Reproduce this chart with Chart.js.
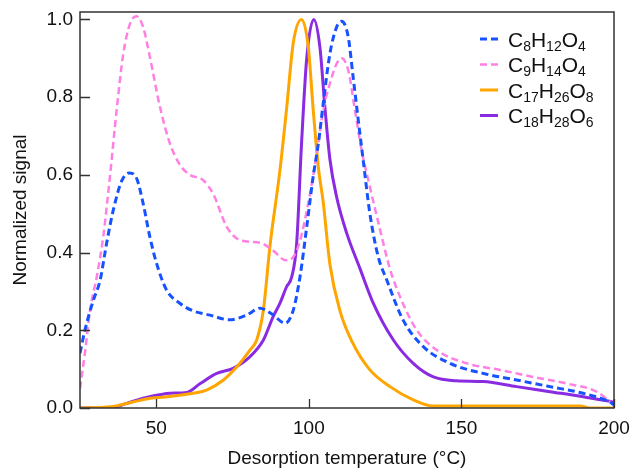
<!DOCTYPE html>
<html>
<head>
<meta charset="utf-8">
<script src="https://cdn.jsdelivr.net/npm/chart.js@4.4.1/dist/chart.umd.min.js"></script>
<style>
  html, body { margin: 0; padding: 0; background: #fff; }
  #wrap { width: 636px; height: 470px; position: relative; }
</style>
</head>
<body>
<div id="wrap"><canvas id="chart"></canvas></div>
<script>
/* =========================
   DATOS
========================= */
const xTicks = [50, 100, 150, 200];
const yTicks = [0, 0.2, 0.4, 0.6, 0.8, 1.0];

// C8H12O4
const c8Temp = [25, 26.6, 29.4, 31.6, 33.7, 35.9, 38.7, 41.2, 43.6, 45.7, 47.9, 50.1, 53.4, 57.8, 62, 67.6, 74, 79.6, 84, 88.2, 92.2, 94.9, 97.1, 99.3, 101.4, 103.1, 104.7, 106.9, 109.1, 110.7, 112.9, 114.5, 116.2, 117.8, 120, 122.7, 125.5, 130.9, 137.5, 146.2, 157.1, 168.1, 179, 189.8, 198.7, 200];
const c8Signal = [0.141, 0.2, 0.278, 0.329, 0.423, 0.509, 0.585, 0.605, 0.59, 0.526, 0.44, 0.372, 0.303, 0.269, 0.25, 0.239, 0.227, 0.239, 0.257, 0.24, 0.218, 0.252, 0.338, 0.466, 0.595, 0.68, 0.783, 0.912, 0.98, 0.995, 0.955, 0.852, 0.74, 0.638, 0.5, 0.39, 0.33, 0.226, 0.158, 0.115, 0.089, 0.072, 0.055, 0.038, 0.015, 0.008];

// C9H14O4
const c9Temp = [25, 26.6, 28.3, 30.5, 32.6, 34.8, 37, 39.2, 41.4, 43.5, 45.7, 47.9, 51.2, 54.5, 57.8, 61, 65.4, 68.7, 73.1, 77.4, 84, 88.3, 92.5, 95, 97.1, 100.4, 102.6, 104.7, 106.9, 109.1, 110.7, 112.9, 115.1, 117.3, 120, 123.3, 126.5, 129.9, 135.4, 141.9, 151.7, 162.6, 173.5, 184.5, 194.3, 199.7];
const c9Signal = [0.05, 0.141, 0.252, 0.338, 0.44, 0.595, 0.766, 0.912, 0.989, 1.008, 0.98, 0.903, 0.775, 0.68, 0.625, 0.6, 0.586, 0.55, 0.466, 0.432, 0.425, 0.405, 0.38, 0.39, 0.43, 0.552, 0.655, 0.766, 0.835, 0.886, 0.9, 0.869, 0.766, 0.663, 0.569, 0.46, 0.36, 0.286, 0.2, 0.149, 0.115, 0.098, 0.08, 0.063, 0.042, 0.01];

// C17H26O8
const c17Temp = [25, 35, 42, 48, 55, 62, 66.5, 72, 76.4, 80.7, 82.9, 85.1, 87.3, 90.5, 92.7, 94.9, 97.6, 99.8, 101.4, 103.1, 104.7, 106.9, 110.2, 114.2, 120, 126.6, 134.2, 140.8, 150, 170, 189, 192, 200];
const c17Signal = [0, 0.003, 0.015, 0.025, 0.03, 0.038, 0.046, 0.072, 0.106, 0.149, 0.175, 0.252, 0.42, 0.61, 0.77, 0.94, 1.0, 0.93, 0.77, 0.62, 0.53, 0.37, 0.25, 0.17, 0.098, 0.055, 0.021, 0.005, 0.005, 0.005, 0.005, 0, 0];

// C18H28O6
const c18Temp = [25, 30, 34, 37, 40.3, 46.8, 51, 54.5, 60, 64.4, 69.8, 75.2, 80.7, 85.1, 88.3, 90.5, 92.7, 94.4, 96, 97.6, 99.3, 101.6, 103.6, 105.3, 106.9, 109.1, 112.4, 116.7, 121.1, 127.7, 134.2, 140.8, 148.4, 157.1, 168.1, 179, 189.9, 200];
const c18Signal = [0, 0, -0.002, 0.003, 0.012, 0.027, 0.034, 0.038, 0.04, 0.063, 0.089, 0.102, 0.132, 0.175, 0.235, 0.269, 0.312, 0.338, 0.423, 0.68, 0.9, 1.0, 0.93, 0.77, 0.64, 0.543, 0.45, 0.36, 0.27, 0.175, 0.115, 0.08, 0.07, 0.068, 0.055, 0.042, 0.029, 0.015];

/* =========================
   UTILIDADES
========================= */
const FONT = "'Liberation Sans', Arial, sans-serif";

function toPoints(xs, ys) {
  return xs.map((x, i) => ({ x: x, y: ys[i] }));
}

function series(label, xs, ys, color, width, dash) {
  return {
    label: label,
    data: toPoints(xs, ys),
    borderColor: color,
    backgroundColor: color,
    borderWidth: width,
    borderDash: dash,
    pointRadius: 0,
    fill: false,
    cubicInterpolationMode: "monotone"
  };
}

// Marco del area + ticks hacia adentro
const framePlugin = {
  id: "frame",
  afterDatasetsDraw(chart) {
    const { ctx, chartArea: a, scales } = chart;
    ctx.save();
    ctx.strokeStyle = "#333";
    ctx.lineWidth = 1.5;
    ctx.strokeRect(a.left, a.top, a.right - a.left, a.bottom - a.top);
    ctx.lineWidth = 1.3;
    ctx.beginPath();
    yTicks.forEach(v => {
      const y = Math.round(scales.y.getPixelForValue(v)) + 0.5;
      ctx.moveTo(a.left, y);
      ctx.lineTo(a.left + 10, y);
    });
    xTicks.forEach(v => {
      const x = Math.round(scales.x.getPixelForValue(v)) + 0.5;
      ctx.moveTo(x, a.bottom);
      ctx.lineTo(x, a.bottom - 9);
    });
    ctx.stroke();
    ctx.restore();
  }
};

// Leyenda con subindices (C8H12O4 -> C₈H₁₂O₄)
const legendPlugin = {
  id: "formulaLegend",
  afterDraw(chart) {
    const ctx = chart.ctx;
    const x0 = 480, y0 = 39, row = 25.5, sample = 18;
    ctx.save();
    chart.data.datasets.forEach((ds, i) => {
      const cy = y0 + i * row;
      ctx.strokeStyle = ds.borderColor;
      ctx.lineWidth = ds.borderWidth;
      ctx.setLineDash(ds.borderDash || []);
      ctx.beginPath();
      ctx.moveTo(x0, cy);
      ctx.lineTo(x0 + sample, cy);
      ctx.stroke();
      ctx.setLineDash([]);

      let x = x0 + sample + 10;
      const base = cy + 7.5;
      ctx.fillStyle = "#111";
      ctx.textBaseline = "alphabetic";
      ds.label.match(/[A-Za-z]+|\d+/g).forEach(part => {
        const sub = /^\d/.test(part);
        ctx.font = (sub ? "14px " : "21px ") + FONT;
        ctx.fillText(part, x, sub ? base + 4 : base);
        x += ctx.measureText(part).width;
      });
    });
    ctx.restore();
  }
};

/* =========================
   GRAFICO
========================= */
const ctx = document.getElementById("chart").getContext("2d");

new Chart(ctx, {
  type: "line",
  data: {
    datasets: [
      series("C8H12O4", c8Temp, c8Signal, "#1652ff", 3, [7, 4]),
      series("C9H14O4", c9Temp, c9Signal, "#ff80e2", 2.5, [7, 4]),
      series("C17H26O8", c17Temp, c17Signal, "#ffa500", 3, []),
      series("C18H28O6", c18Temp, c18Signal, "#8a2be2", 3, [])
    ]
  },
  options: {
    responsive: true,
    maintainAspectRatio: false,
    animation: false,
    layout: { padding: { top: 12, right: 22, left: 0, bottom: 0 } },
    plugins: {
      legend: { display: false },
      tooltip: { enabled: false }
    },
    scales: {
      x: {
        type: "linear",
        min: 25,
        max: 200,
        afterBuildTicks: s => { s.ticks = xTicks.map(v => ({ value: v })); },
        afterFit: s => {
          s.height = 62;
          s.paddingLeft = 0;
          s.paddingRight = 0;
        },
        grid: { display: false, drawTicks: false },
        border: { display: false },
        ticks: {
          padding: 9,
          color: "#111",
          font: { family: FONT, size: 19 },
          maxRotation: 0
        },
        title: {
          display: true,
          text: "Desorption temperature (°C)",
          color: "#111",
          font: { family: FONT, size: 19 },
          padding: { top: 0, bottom: 0 }
        }
      },
      y: {
        min: 0,
        max: 1.019,
        afterBuildTicks: s => { s.ticks = yTicks.map(v => ({ value: v })); },
        afterFit: s => {
          s.width = 80;
          s.paddingTop = 0;
          s.paddingBottom = 0;
        },
        grid: { display: false, drawTicks: false },
        border: { display: false },
        ticks: {
          padding: 7,
          color: "#111",
          font: { family: FONT, size: 19 },
          callback: v => v.toFixed(1)
        },
        title: {
          display: true,
          text: "Normalized signal",
          color: "#111",
          font: { family: FONT, size: 19 },
          padding: { top: 9, bottom: 0 }
        }
      }
    }
  },
  plugins: [framePlugin, legendPlugin]
});
</script>
</body>
</html>
